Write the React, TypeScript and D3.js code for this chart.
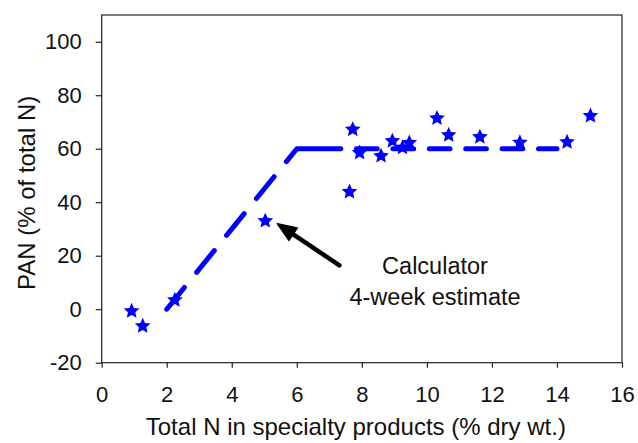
import React, { useEffect, useRef } from "react";
import * as d3 from "d3";

// ---- data ----
const totalN = [0.92, 1.26, 2.25, 5.03, 7.62, 7.72, 7.93, 8.59, 8.94, 9.25, 9.46, 10.31, 10.67, 11.63, 12.86, 14.31, 15.03];
const panPct = [-0.4, -6.0, 3.7, 33.3, 44.2, 67.5, 58.8, 57.6, 63.2, 60.7, 62.5, 71.7, 65.4, 64.7, 62.6, 62.8, 72.6];

// calculator 4-week estimate (broken line)
const calcX = [2, 6, 14];
const calcY = [0, 60, 60];

const xTicks = [0, 2, 4, 6, 8, 10, 12, 14, 16];
const yTicks = [-20, 0, 20, 40, 60, 80, 100];

const arrowFrom = [7.31, 16.4];
const arrowTo = [5.4, 32.0];
const noteLines = ["Calculator", "4-week estimate"];
const noteX = 10.25;
const noteY = [13.3, 1.5];

const FONT = "'Liberation Sans', Arial, sans-serif";
const BLUE = "#0000ff";

// fatter 5-point star than d3.symbolStar (inner radius ~0.47 of outer)
const fatStar = {
  draw(ctx: any, size: number) {
    const r = Math.sqrt(size);
    const ri = r * 0.47;
    for (let i = 0; i < 10; i++) {
      const a = -Math.PI / 2 + (i * Math.PI) / 5;
      const rr = i % 2 === 0 ? r : ri;
      if (i === 0) ctx.moveTo(rr * Math.cos(a), rr * Math.sin(a));
      else ctx.lineTo(rr * Math.cos(a), rr * Math.sin(a));
    }
    ctx.closePath();
  },
};

function App() {
  const ref = useRef<SVGSVGElement | null>(null);

  useEffect(() => {
    const svg = d3.select(ref.current);
    svg.selectAll("*").remove();

    const dims = { width: 638, height: 443, left: 101.7, right: 622, top: 15, bottom: 362.7 };

    const x = d3.scaleLinear().domain([0, 16]).range([dims.left, dims.right]);
    const y = d3.scaleLinear().domain([-20, 110]).range([dims.bottom, dims.top]);

    // ---- frame ----
    svg
      .append("rect")
      .attr("x", dims.left)
      .attr("y", dims.top)
      .attr("width", dims.right - dims.left)
      .attr("height", dims.bottom - dims.top)
      .attr("fill", "none")
      .attr("stroke", "#222")
      .attr("stroke-width", 1.2);

    // ---- axes ----
    const xAxis = svg
      .append("g")
      .attr("transform", `translate(0,${dims.bottom})`)
      .call(
        d3.axisBottom(x).tickValues(xTicks).tickSize(5).tickSizeOuter(0).tickPadding(19).tickFormat((d) => String(d))
      );
    const yAxis = svg
      .append("g")
      .attr("transform", `translate(${dims.left},0)`)
      .call(
        d3.axisLeft(y).tickValues(yTicks).tickSize(6).tickSizeOuter(0).tickPadding(14).tickFormat((d) => String(d))
      );
    [xAxis, yAxis].forEach((g) => {
      g.select(".domain").remove();
      g.selectAll("line").attr("stroke", "#222").attr("stroke-width", 1.2);
      g.selectAll("text").attr("fill", "#111").style("font-family", FONT).style("font-size", "22px");
    });

    // ---- estimate line ----
    const pts: [number, number][] = calcX.map((v, i) => [x(v), y(calcY[i])]);
    const slopeLen = Math.hypot(pts[1][0] - pts[0][0], pts[1][1] - pts[0][1]);
    const flatLen = pts[2][0] - pts[1][0];
    const dash: number[] = [];
    for (let i = 0; i < 4; i++) dash.push(28, 19.5);
    dash.push(slopeLen - 4 * 47.5 + 44);
    let used = 44;
    while (used < flatLen) {
      dash.push(15.7, 20.7);
      used += 36.4;
    }
    dash.push(40);

    svg
      .append("path")
      .attr("d", d3.line()(pts))
      .attr("fill", "none")
      .attr("stroke", BLUE)
      .attr("stroke-width", 5)
      .attr("stroke-linecap", "round")
      .attr("stroke-linejoin", "round")
      .attr("stroke-dasharray", dash.join(" "));

    // ---- measured points ----
    const star = d3.symbol().type(fatStar as any).size(68);
    svg
      .append("g")
      .selectAll("path")
      .data(totalN)
      .join("path")
      .attr("d", star)
      .attr("transform", (d, i) => `translate(${x(d)},${y(panPct[i]) + 0.8})`)
      .attr("fill", BLUE);

    // ---- arrow annotation ----
    const x1 = x(arrowFrom[0]), y1 = y(arrowFrom[1]);
    const x2 = x(arrowTo[0]), y2 = y(arrowTo[1]);
    const ang = Math.atan2(y2 - y1, x2 - x1);
    const headLen = 19, headW = 7.5;
    const bx = x2 - headLen * Math.cos(ang), by = y2 - headLen * Math.sin(ang);
    svg
      .append("line")
      .attr("x1", x1)
      .attr("y1", y1)
      .attr("x2", bx + 3 * Math.cos(ang))
      .attr("y2", by + 3 * Math.sin(ang))
      .attr("stroke", "#000")
      .attr("stroke-width", 4.5)
      .attr("stroke-linecap", "round");
    svg
      .append("path")
      .attr(
        "d",
        `M${x2},${y2}L${bx - headW * Math.sin(ang)},${by + headW * Math.cos(ang)}L${bx + headW * Math.sin(ang)},${by - headW * Math.cos(ang)}Z`
      )
      .attr("fill", "#000")
      .attr("stroke", "#000")
      .attr("stroke-width", 1.5)
      .attr("stroke-linejoin", "round");

    svg
      .append("g")
      .selectAll("text")
      .data(noteLines)
      .join("text")
      .attr("x", x(noteX))
      .attr("y", (d, i) => y(noteY[i]))
      .attr("text-anchor", "middle")
      .style("font-family", FONT)
      .style("font-size", "23.5px")
      .attr("fill", "#111")
      .text((d) => d);

    // ---- axis titles ----
    svg
      .append("text")
      .attr("x", (dims.left + dims.right) / 2 - 6)
      .attr("y", 434.5)
      .attr("text-anchor", "middle")
      .style("font-family", FONT)
      .style("font-size", "24px")
      .attr("fill", "#111")
      .text("Total N in specialty products (% dry wt.)");

    svg
      .append("text")
      .attr("transform", `translate(35,${(dims.top + dims.bottom) / 2 + 4}) rotate(-90)`)
      .attr("text-anchor", "middle")
      .style("font-family", FONT)
      .style("font-size", "24px")
      .attr("fill", "#111")
      .text("PAN (% of total N)");
  }, []);

  return (
    <div style={{ position: "absolute", left: 0, top: 0 }}>
      <svg ref={ref} width={638} height={443} style={{ display: "block", background: "#fff" }} />
    </div>
  );
}

export default App;
